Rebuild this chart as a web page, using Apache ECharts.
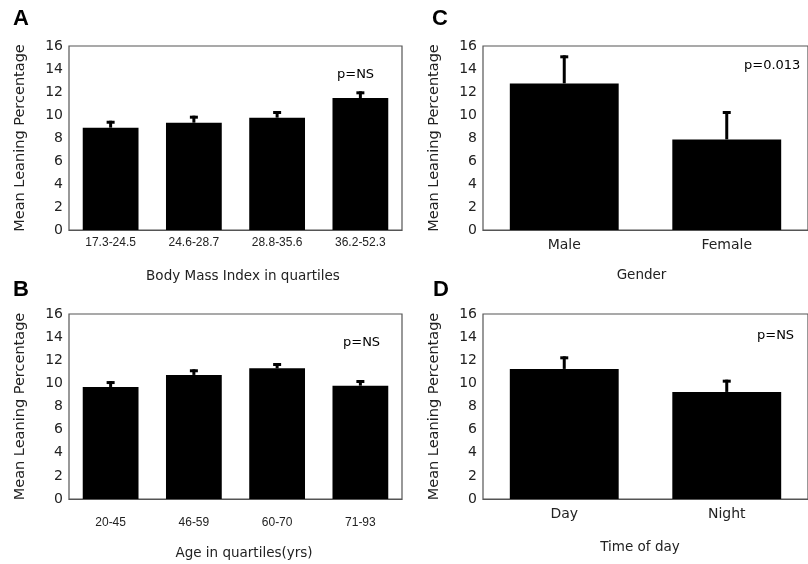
<!DOCTYPE html>
<html>
<head>
<meta charset="utf-8">
<script src="https://cdn.jsdelivr.net/npm/echarts@6/dist/echarts.min.js"></script>
<style>html,body{margin:0;padding:0;background:#fff;}#c{width:808px;height:564px;}</style>
</head>
<body>
<div id="c"></div>
<script>
// ---- Data ----
var bmiCategories = ['17.3-24.5', '24.6-28.7', '28.8-35.6', '36.2-52.3'];
var bmiMeans = [8.9, 9.33, 9.77, 11.48];
var bmiUpper = [9.5, 9.94, 10.35, 12.06];

var ageCategories = ['20-45', '46-59', '60-70', '71-93'];
var ageMeans = [9.69, 10.73, 11.3, 9.8];
var ageUpper = [10.2, 11.22, 11.76, 10.29];

var genderCategories = ['Male', 'Female'];
var genderMeans = [12.75, 7.88];
var genderUpper = [15.19, 10.35];

var timeCategories = ['Day', 'Night'];
var timeMeans = [11.25, 9.26];
var timeUpper = [12.34, 10.32];

var yTicks = { min: 0, max: 16, interval: 2 };
var yName = 'Mean Leaning Percentage';

// ---- Chart ----
var FONT = 'DejaVu Sans';
var chart = echarts.init(document.getElementById('c'), null, { renderer: 'canvas' });

function errData(means, upper) {
  return means.map(function (m, i) { return [i, m, upper[i]]; });
}

function renderErr(params, api) {
  var base = api.coord([api.value(0), api.value(1)]);
  var top = api.coord([api.value(0), api.value(2)]);
  var x = base[0];
  return {
    type: 'group',
    children: [
      { type: 'rect', shape: { x: x - 1.5, y: top[1], width: 3, height: base[1] - top[1] }, style: { fill: '#000' } },
      { type: 'rect', shape: { x: x - 4, y: top[1], width: 8, height: 3 }, style: { fill: '#000' } }
    ]
  };
}

var grids = [
  { left: 69, top: 46, right: 406, bottom: 334 },
  { left: 69, top: 314, right: 406, bottom: 65 },
  { left: 483, top: 46, right: -10, bottom: 334 },
  { left: 483, top: 314, right: -10, bottom: 65 }
].map(function (g) {
  return Object.assign({ show: true, borderColor: '#555', borderWidth: 1.2, backgroundColor: 'transparent' }, g);
});

var panels = [
  { cats: bmiCategories, means: bmiMeans, upper: bmiUpper, xName: 'Body Mass Index in quartiles', labelSize: 12, labelMargin: 7, nameGap: 39, namePad: [0, 0, 0, 15] },
  { cats: ageCategories, means: ageMeans, upper: ageUpper, xName: 'Age in quartiles(yrs)', labelSize: 12, labelMargin: 18, nameGap: 47, namePad: [0, 0, 0, 17] },
  { cats: genderCategories, means: genderMeans, upper: genderUpper, xName: 'Gender', labelSize: 14, labelMargin: 8, nameGap: 38, namePad: [0, 8, 0, 0] },
  { cats: timeCategories, means: timeMeans, upper: timeUpper, xName: 'Time of day', labelSize: 14, labelMargin: 8, nameGap: 41, namePad: [0, 11, 0, 0] }
];

var xAxes = [], yAxes = [], series = [];
panels.forEach(function (p, i) {
  xAxes.push({
    type: 'category', gridIndex: i, data: p.cats,
    axisLine: { show: true, lineStyle: { color: '#555', width: 1.2 } },
    axisTick: { show: false },
    axisLabel: { fontFamily: p.labelSize < 13 ? 'Liberation Sans' : FONT, fontSize: p.labelSize, color: '#222', margin: p.labelMargin },
    name: p.xName, nameLocation: 'middle', nameGap: p.nameGap,
    nameTextStyle: { fontFamily: FONT, fontSize: 13.5, color: '#222', padding: p.namePad }
  });
  yAxes.push({
    type: 'value', gridIndex: i, min: yTicks.min, max: yTicks.max, interval: yTicks.interval,
    axisLine: { show: false }, axisTick: { show: false }, splitLine: { show: false },
    axisLabel: { fontFamily: FONT, fontSize: 14, color: '#222', margin: 6 },
    name: yName, nameLocation: 'middle', nameGap: 41,
    nameTextStyle: { fontFamily: FONT, fontSize: 14.5, color: '#222' }
  });
  series.push({
    type: 'bar', xAxisIndex: i, yAxisIndex: i, data: p.means, barWidth: '67%',
    itemStyle: { color: '#000' }, silent: true, animation: false
  });
  series.push({
    type: 'custom', xAxisIndex: i, yAxisIndex: i, data: errData(p.means, p.upper),
    renderItem: renderErr, silent: true, animation: false, z: 3
  });
});

function txt(x, y, s, size, bold, font) {
  return { type: 'text', left: x, top: y, style: { text: s, fontSize: size, fontWeight: bold ? 'bold' : 'normal', fontFamily: font || FONT, fill: '#000' } };
}

chart.setOption({
  animation: false,
  grid: grids,
  xAxis: xAxes,
  yAxis: yAxes,
  series: series,
  graphic: [
    txt(13, 8, 'A', 22, true, 'Liberation Sans'),
    txt(13, 279, 'B', 22, true, 'Liberation Sans'),
    txt(432, 8, 'C', 22, true, 'Liberation Sans'),
    txt(433, 279, 'D', 22, true, 'Liberation Sans'),
    txt(337, 68, 'p=NS', 13),
    txt(343, 336, 'p=NS', 13),
    txt(744, 59, 'p=0.013', 13),
    txt(757, 329, 'p=NS', 13)
  ]
});
</script>
</body>
</html>
